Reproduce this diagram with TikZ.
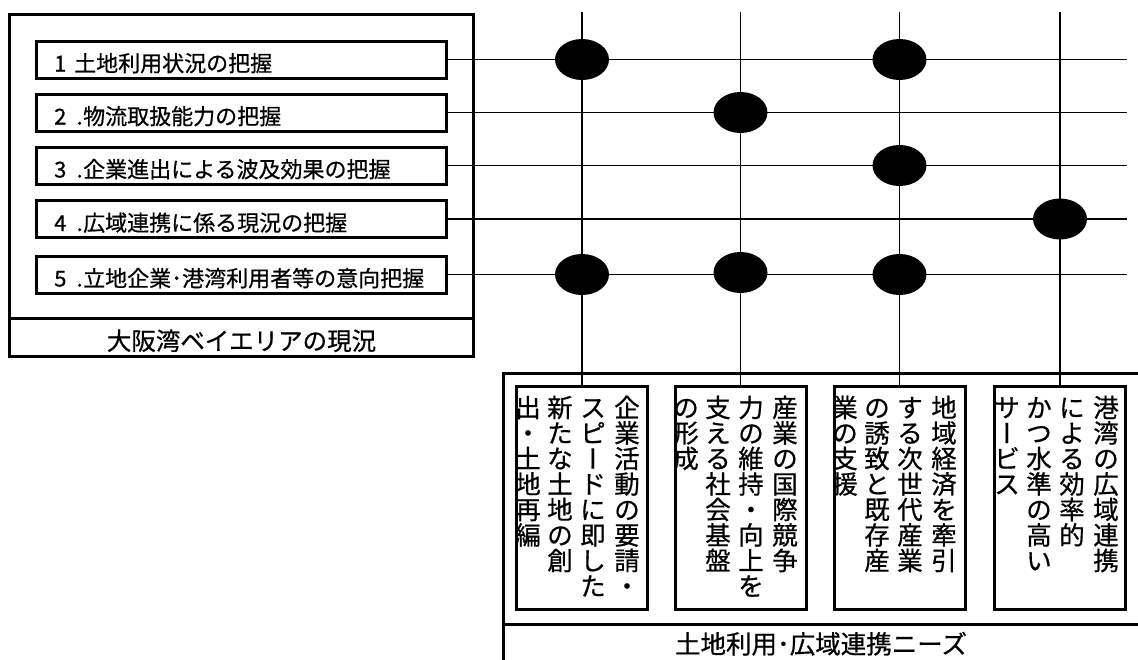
\documentclass[tikz,border=0pt]{standalone}
\usepackage{fontspec}
\usepackage{graphicx}
\setmainfont{Noto Sans CJK JP}[FakeBold=0.6]
\usetikzlibrary{shapes.geometric}
\newcommand\cjkstrut{\vrule height .88em depth .12em width 0pt}
\newcommand\cjkcell[1]{\hbox to 1em{\cjkstrut\hss#1\hss}}
\newcommand\vbar{\rotatebox[origin=c]{90}{\cjkcell{ー}}}
\newcommand\itemno[1]{\makebox[22pt][l]{#1}\makebox[7pt]{.}}
\ExplSyntaxOn
\NewDocumentCommand\vcol{m}{
  \vbox{\offinterlineskip
    \tl_map_inline:nn {#1}{
      \cjkcell{\str_if_eq:nnTF{##1}{ー}{\vbar}{##1}}
    }
  }
}
\ExplSyntaxOff
\begin{document}
\begin{tikzpicture}[x=1pt,y=-1pt,
  box/.style={draw, line width=3pt, rectangle, inner sep=0pt},
  itembox/.style={box, minimum width=410pt, minimum height=37pt},
  needbox/.style={box, minimum width=131pt, minimum height=223pt},
  frame/.style={line width=3pt},
  link/.style={line width=1.4pt},
  dot/.style={ellipse, fill=black, draw=none, inner sep=0pt, minimum width=54pt, minimum height=41pt},
  itemtext/.style={anchor=base west, inner sep=0pt, font=\fontsize{22}{22}\selectfont},
  title/.style={anchor=base, inner sep=0pt, font=\fontsize{24.5}{25}\selectfont},
  vtext/.style={anchor=north, inner sep=0pt, font=\fontsize{25.5}{26}\selectfont}
]
\useasboundingbox[fill=white] (0,0) rectangle (1138,659);

% left frame
\node[box, minimum width=464pt, minimum height=342pt] (lbox) at (241.5,185.5) {};
\draw[frame] (9.5,318) -- (473.5,318);
\node[title] (ltitle) at (241.5,350) {大阪湾ベイエリアの現況};

% item boxes
\node[itembox] (i1) at (241.5,59.5) {};
\node[itembox] (i2) at (241.5,112.5) {};
\node[itembox] (i3) at (241.5,165.5) {};
\node[itembox] (i4) at (241.5,219) {};
\node[itembox] (i5) at (241.5,274.5) {};
\node[itemtext] (t1) at (54,71.5) {\makebox[20pt][l]{1}土地利用状況の把握};
\node[itemtext] (t2) at (54,124.5) {\itemno{2}物流取扱能力の把握};
\node[itemtext] (t3) at (54,177.5) {\itemno{3}企業進出による波及効果の把握};
\node[itemtext] (t4) at (54,231) {\itemno{4}広域連携に係る現況の把握};
\node[itemtext] (t5) at (54,286.5) {\itemno{5}立地企業･港湾利用者等の意向把握};

% right-bottom frame
\draw[frame] (1141,373.5) -- (503.5,373.5) -- (503.5,662);
\draw[frame] (503.5,624) -- (1141,624);
\node[title, font=\fontsize{25.5}{26}\selectfont] (btitle) at (821,653.5) {土地利用･広域連携ニーズ};

% need boxes
\node[needbox] (n1) at (582,498) {};
\node[needbox] (n2) at (740.5,498) {};
\node[needbox] (n3) at (899.5,498) {};
\node[needbox] (n4) at (1060,498) {};

\node[vtext] (c11) at (627,394.5) {\vcol{企業活動の要請・}};
\node[vtext] (c12) at (593,394.5) {\vcol{スピードに即した}};
\node[vtext] (c13) at (560,394.5) {\vcol{新たな土地の創}};
\node[vtext] (c14) at (528,394.5) {\vcol{出・土地再編}};

\node[vtext] (c21) at (785,394.5) {\vcol{産業の国際競争}};
\node[vtext] (c22) at (751,394.5) {\vcol{力の維持・向上を}};
\node[vtext] (c23) at (718,394.5) {\vcol{支える社会基盤}};
\node[vtext] (c24) at (686,394.5) {\vcol{の形成}};

\node[vtext] (c31) at (944,394.5) {\vcol{地域経済を牽引}};
\node[vtext] (c32) at (910,394.5) {\vcol{する次世代産業}};
\node[vtext] (c33) at (877,394.5) {\vcol{の誘致と既存産}};
\node[vtext] (c34) at (845,394.5) {\vcol{業の支援}};

\node[vtext] (c41) at (1106,394.5) {\vcol{港湾の広域連携}};
\node[vtext] (c42) at (1072,394.5) {\vcol{による効率的}};
\node[vtext] (c43) at (1039,394.5) {\vcol{かつ水準の高い}};
\node[vtext] (c44) at (1007,394.5) {\vcol{サービス}};

% connectors
\coordinate (v1) at (582,12);
\coordinate (v2) at (740.5,12);
\coordinate (v3) at (899.5,12);
\coordinate (v4) at (1060,12);
\draw[link] (v1) -- (n1.north);
\draw[link] (v2) -- (n2.north);
\draw[link] (v3) -- (n3.north);
\draw[link] (v4) -- (n4.north);

\coordinate (h1) at (1127,59.5);
\coordinate (h2) at (1127,112.5);
\coordinate (h3) at (1127,165.5);
\coordinate (h4) at (1127,219);
\coordinate (h5) at (1127,274.5);
\draw[link] (i1.east) -- (h1);
\draw[link] (i2.east) -- (h2);
\draw[link] (i3.east) -- (h3);
\draw[link] (i4.east) -- (h4);
\draw[link] (i5.east) -- (h5);

% dots
\node[dot] (d11) at (v1 |- i1.east) {};
\node[dot] (d13) at (v3 |- i1.east) {};
\node[dot] (d22) at (v2 |- i2.east) {};
\node[dot] (d33) at (v3 |- i3.east) {};
\node[dot] (d44) at (v4 |- i4.east) {};
\node[dot] (d51) at (v1 |- i5.east) {};
\node[dot, yshift=2pt] (d52) at (v2 |- i5.east) {};
\node[dot] (d53) at (v3 |- i5.east) {};
\end{tikzpicture}
\end{document}
